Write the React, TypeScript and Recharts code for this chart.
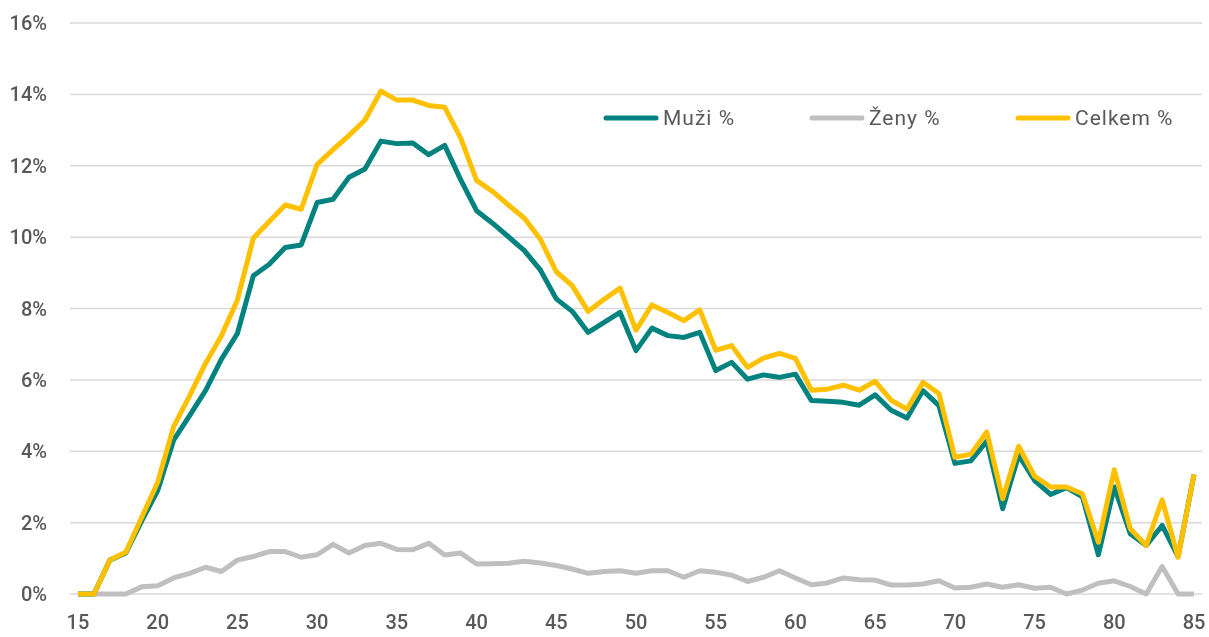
import React from 'react';
import { LineChart, Line, XAxis, YAxis, CartesianGrid, Legend } from 'recharts';

const ages = [15,16,17,18,19,20,21,22,23,24,25,26,27,28,29,30,31,32,33,34,35,36,37,38,39,40,41,42,43,44,45,46,47,48,49,50,51,52,53,54,55,56,57,58,59,60,61,62,63,64,65,66,67,68,69,70,71,72,73,74,75,76,77,78,79,80,81,82,83,84,85];

const muzi = [0,0,0.95,1.15,2.05,2.9,4.31,5.0,5.7,6.58,7.3,8.92,9.24,9.71,9.78,10.97,11.06,11.68,11.91,12.69,12.62,12.64,12.31,12.57,11.61,10.74,10.39,10.01,9.62,9.08,8.27,7.92,7.33,7.61,7.89,6.82,7.45,7.24,7.19,7.33,6.26,6.49,6.02,6.14,6.07,6.16,5.42,5.4,5.37,5.29,5.58,5.15,4.93,5.7,5.28,3.66,3.73,4.28,2.39,3.89,3.18,2.79,2.98,2.72,1.1,3.0,1.69,1.36,1.92,1.05,3.35];

const zeny = [0,0,0,0,0.2,0.23,0.45,0.58,0.75,0.63,0.95,1.05,1.19,1.19,1.03,1.1,1.39,1.15,1.36,1.42,1.25,1.24,1.42,1.09,1.15,0.84,0.85,0.86,0.92,0.87,0.8,0.7,0.58,0.63,0.65,0.58,0.65,0.65,0.47,0.65,0.61,0.53,0.35,0.47,0.65,0.45,0.26,0.31,0.45,0.4,0.39,0.25,0.25,0.28,0.37,0.17,0.19,0.28,0.19,0.26,0.16,0.19,0,0.11,0.3,0.37,0.21,0,0.77,0,0];

const celkem = [0,0,0.95,1.17,2.15,3.13,4.69,5.55,6.46,7.24,8.24,9.97,10.44,10.9,10.78,12.04,12.45,12.85,13.28,14.09,13.84,13.84,13.69,13.64,12.78,11.59,11.28,10.9,10.53,9.94,9.03,8.64,7.92,8.26,8.57,7.39,8.1,7.89,7.66,7.96,6.83,6.96,6.35,6.61,6.74,6.6,5.71,5.74,5.85,5.71,5.96,5.43,5.18,5.93,5.62,3.83,3.92,4.54,2.67,4.14,3.3,3.0,3.0,2.81,1.45,3.48,1.83,1.36,2.64,1.03,3.35];

const xTicks = [15,20,25,30,35,40,45,50,55,60,65,70,75,80,85];
const yTicks = [0,2,4,6,8,10,12,14,16];

const seriesNames = ['Muži %', 'Ženy %', 'Celkem %'];
const seriesColors = ['#00827F', '#BFBFBF', '#FFC000'];

const data = ages.map((a, i) => ({ age: a, muzi: muzi[i], zeny: zeny[i], celkem: celkem[i] }));

const FONT = 'Roboto, sans-serif';
const TEXT = '#595959';

const renderLegend = () => (
  <div style={{ display: 'flex', flexDirection: 'row', fontFamily: FONT, fontSize: 21, color: TEXT, letterSpacing: 1 }}>
    {seriesNames.map((n, i) => (
      <div key={n} style={{ display: 'flex', alignItems: 'center', width: 206 }}>
        <svg width={56} height={10} style={{ display: 'block' }}>
          <line x1={3} y1={5} x2={53} y2={5} stroke={seriesColors[i]} strokeWidth={5} strokeLinecap="round" />
        </svg>
        <span style={{ marginLeft: 4, lineHeight: '24px' }}>{n}</span>
      </div>
    ))}
  </div>
);

export default function App() {
  return (
    <div style={{ position: 'fixed', left: 8, top: 8 }}>
      <LineChart width={1201} height={629} data={data} margin={{ top: 15, right: 7, bottom: 0, left: 0 }}>
        <CartesianGrid horizontal={true} vertical={false} stroke="#D9D9D9" strokeWidth={1.5} />
        <XAxis
          dataKey="age"
          type="number"
          domain={[14.5, 85.5]}
          ticks={xTicks}
          axisLine={false}
          tickLine={false}
          tickSize={0}
          tickMargin={21}
          height={43}
          interval={0}
          tick={{ fill: TEXT, fontSize: 20, fontFamily: FONT, fontWeight: 500 }}
        />
        <YAxis
          domain={[0, 16]}
          ticks={yTicks}
          width={62}
          axisLine={false}
          tickLine={false}
          tickSize={0}
          tickMargin={23}
          interval={0}
          tickFormatter={(v) => `${v}%`}
          tick={{ fill: TEXT, fontSize: 20, fontFamily: FONT, fontWeight: 500 }}
        />
        <Legend
          layout="horizontal"
          verticalAlign="middle"
          align="center"
          content={renderLegend}
          wrapperStyle={{ left: 595, top: 98, width: 620, height: 24 }}
        />
        <Line type="linear" dataKey="zeny" name="Ženy %" stroke={seriesColors[1]} strokeWidth={5} dot={false} isAnimationActive={false} strokeLinejoin="round" />
        <Line type="linear" dataKey="muzi" name="Muži %" stroke={seriesColors[0]} strokeWidth={5} dot={false} isAnimationActive={false} strokeLinejoin="round" />
        <Line type="linear" dataKey="celkem" name="Celkem %" stroke={seriesColors[2]} strokeWidth={5} dot={false} isAnimationActive={false} strokeLinejoin="round" />
      </LineChart>
    </div>
  );
}
